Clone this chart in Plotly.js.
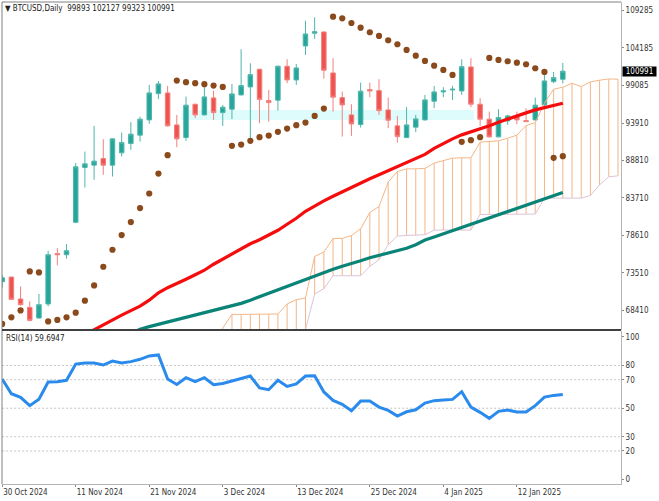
<!DOCTYPE html>
<html><head><meta charset="utf-8">
<script src="https://cdn.plot.ly/plotly-3.0.1.min.js"></script>
<style>html,body{margin:0;padding:0;background:#fff}#c{width:659px;height:501px}</style>
</head><body><div id="c"></div>
<script>
// Daily bars are indexed 0..61; the cloud runs ahead to 67.
const open  = [72292,72932,69935,68791,67348,69254,76132,75969,80395,87859,88186,89085,88186,89861,91128,92272,94356,97938,98033,93675,91945,96494,95037,97352,95350,95813,97761,98851,101261,96985,97039,101670,99804,104435,106165,106342,100757,97393,95037,93716,98483,98347,95718,93539,91945,93362,94356,96903,98170,98442,98306,101575,96494,94451,92041,94220,94805,94261,94356,96399,99572,99893];
const high  = [73245,72932,71651,69608,70616,76514,76882,77426,88459,90038,93539,91727,91850,92626,94043,94805,99123,99668,98987,95037,97529,96535,98810,98347,96399,99259,103985,102079,101300,98442,101750,102623,101983,107881,108344,106410,102760,98210,96494,99436,99436,99899,97393,94901,96086,95037,97761,98987,98810,98987,102623,102760,97312,95486,95813,95037,95486,95950,97393,100485,100894,102127];
const low   = [71474,69840,69050,66884,67252,68927,74512,75424,80327,85135,86184,86865,86633,89357,90270,91400,93811,97175,93443,90638,91496,94588,94970,94356,93539,94451,97690,91864,93907,94124,95623,99355,99123,103209,105388,99981,95486,92081,92177,93307,97448,95037,93226,91264,91864,92681,94261,95950,97448,97080,97761,96086,93539,91945,91945,93675,93771,94084,94261,96168,99355,99323];
const close = [72836,69881,69159,67021,69159,75969,75969,76514,87955,88363,88731,88186,91768,91264,92408,94451,98033,99259,93539,91768,96358,95037,97489,95350,96086,97897,99028,100526,97121,96712,101670,99804,101438,106069,106382,101125,97448,96399,93811,98265,98306,95623,94315,92081,93675,94492,97080,98170,98306,98537,101615,96494,94451,92041,94669,94901,94356,94124,96358,99668,100117,100991];
const sar   = [66531,67430,68383,73695,73558,66884,67075,67430,68071,69704,71788,74335,76650,78652,80423,82329,84318,87042,89548,99709,99491,99355,99218,99028,98851,90815,90992,91496,92000,92218,92722,93171,93634,93988,94901,95895,108425,108208,107567,106927,106301,105797,105211,104666,103890,103114,102392,101752,101165,100485,91360,91591,92000,102800,102528,102351,102160,101942,101398,100894,89180,89413];
// Moving averages, each starting at its own bar index.
const redMaStart = 9;
const redMa = [65073,65754,66435,67048,67729,68347,68955,69771,70787,71474,72021,72634,73245,73858,74675,75357,76105,76786,77467,78012,78625,79306,80123,80940,81894,82643,83324,83937,84550,85162,85775,86320,86865,87410,88023,88500,89044,89657,90474,91155,91768,92313,92722,93089,93539,94043,94492,94901,95309,95718,96059,96399,96631];
const tealMaStart = 14;
const tealMa = [65209,65822,66163,66476,66776,67116,67457,67797,68071,68342,68683,69023,69337,69771,70248,70657,71202,71679,72155,72632,73041,73517,73994,74403,74743,75152,75560,75901,76241,76514,76855,77331,77971,78393,78829,79265,79687,80124,80559,80981,81417,81853,82275,82711,83147,83569,84005,84455];
// Cloud spans, starting at bar 24.
const cloudStart = 24;
const spanUpper = [65985,67838,67838,67838,67838,67838,67893,69255,69840,70071,75738,76337,78190,78190,78598,79510,81730,82548,85871,87315,87682,87682,87750,88459,88812,89139,89180,89180,91319,91400,91496,91864,92272,93580,93988,96631,98537,98810,99355,98892,99532,99763,99940,99899];
const spanLower = [65073,65073,65073,65073,65073,65073,65073,65073,65073,65754,70616,71338,73109,73109,73109,73109,74376,75288,77331,78515,78598,78598,78693,79333,79333,79333,79333,79333,81459,81459,81459,81459,81459,81459,81513,83691,83691,83691,83691,83691,84046,85503,86593,86729];
const rsi = [70.5,60.2,57.6,51.8,56.4,68.4,68.6,69.6,81,81.7,81.7,80.3,83.1,81.7,82.7,84.3,86.7,87.4,70.5,66.7,71.4,68.6,71.4,66.5,67.4,69.3,71,72.6,64.2,63,69.6,65.3,67,72.6,72.8,61.4,55.5,52.7,48.2,55,55,50.8,48.5,44.5,47.5,48.9,53.6,55.3,55.7,56.2,61.6,50.8,47.1,42.9,47.8,48.7,47.3,47.3,51.8,57.8,59,59.7];
const rsiLevels = [80,70,50,30,20];
const zoneBars = [19.5,51.3];
const zonePrices = [94356,95718];
const priceTicks = [109285,104185,99085,93910,88810,83710,78610,73510,68410];
const rsiTicks = [100,80,70,50,30,20,0];
const dateTickBars = [0,8,16,24,32,40,48,56];
const dateTickLabels = ['30 Oct 2024','11 Nov 2024','21 Nov 2024','3 Dec 2024','13 Dec 2024','25 Dec 2024','4 Jan 2025','12 Jan 2025'];
const headline = '▼ BTCUSD,Daily  99893 102127 99323 100991';
const rsiHeadline = 'RSI(14) 59.6947';
const lastPrice = 100991;

const FONT = '"DejaVu Sans Condensed","DejaVu Sans",sans-serif';
const FS = 8;
const bars = open.map((_, i) => i);
const seriesX = (arr, start) => arr.map((_, i) => i + start);
const cloudX = seriesX(spanUpper, cloudStart);

const levelTraces = rsiLevels.map(v => ({
  type:'scatter', mode:'lines', x:[0,67.33], y:[v,v], xaxis:'x', yaxis:'y2',
  line:{color:'#c4c4c4', width:1, dash:'2px,2px'}, hoverinfo:'skip'
}));

const data = [
  // bars sit beneath the candles in plotly's layer order
  {type:'bar', x:[(zoneBars[0]+zoneBars[1])/2], width:[zoneBars[1]-zoneBars[0]], base:[zonePrices[0]],
   y:[zonePrices[1]-zonePrices[0]], marker:{color:'#dffcfc', line:{width:0}}, xaxis:'x', yaxis:'y', hoverinfo:'skip'},
  {type:'bar', x:cloudX, width:0.11, base:spanLower, y:spanUpper.map((u,i)=>u-spanLower[i]),
   marker:{color:'#f3b688', line:{width:0}}, xaxis:'x', yaxis:'y', hoverinfo:'skip'},
  {type:'candlestick', x:bars, open, high, low, close, xaxis:'x', yaxis:'y', whiskerwidth:0,
   increasing:{line:{color:'#4fb5ab', width:1}, fillcolor:'#26a69a'},
   decreasing:{line:{color:'#f2807e', width:1}, fillcolor:'#ef5350'}},
  {type:'scatter', mode:'lines', x:cloudX, y:spanLower, xaxis:'x', yaxis:'y', line:{color:'#dcc3da', width:1}},
  {type:'scatter', mode:'lines', x:cloudX, y:spanUpper, xaxis:'x', yaxis:'y', line:{color:'#f3b688', width:1}},
  {type:'scatter', mode:'lines', x:seriesX(redMa,redMaStart), y:redMa, xaxis:'x', yaxis:'y', line:{color:'#f50d0d', width:3.2}},
  {type:'scatter', mode:'lines', x:seriesX(tealMa,tealMaStart), y:tealMa, xaxis:'x', yaxis:'y', line:{color:'#0b8478', width:3.2}},
  {type:'scatter', mode:'markers', x:bars, y:sar, xaxis:'x', yaxis:'y', marker:{color:'#8b4a1c', size:6.2}},
  ...levelTraces,
  {type:'scatter', mode:'lines', x:bars, y:rsi, xaxis:'x', yaxis:'y2', line:{color:'#2a8bec', width:3}},
];

const layout = {
  width:659, height:501, showlegend:false, paper_bgcolor:'#fff', plot_bgcolor:'#fff',
  margin:{l:2, r:38, t:2, b:16.5, pad:0}, barmode:'overlay',
  font:{family:FONT, size:FS, color:'#333'},
  dragmode:false,
  xaxis:{domain:[0,1], anchor:'y2', range:[-0.02,67.33], type:'linear', rangeslider:{visible:false},
    tickmode:'array', tickvals:dateTickBars, ticktext:dateTickLabels, ticks:'outside', ticklen:2,
    tickcolor:'#888', ticklabelposition:'outside right', showgrid:false, zeroline:false,
    showline:true, linecolor:'#b4b4b4', linewidth:1, tickfont:{family:FONT, size:FS, color:'#333'}},
  yaxis:{domain:[0.3202,1], anchor:'x', side:'right', range:[65754,110428], type:'linear',
    tickmode:'array', tickvals:priceTicks, ticktext:priceTicks.map(String), ticks:'outside', ticklen:2,
    tickcolor:'#888', showgrid:false, zeroline:false, showline:true, linecolor:'#b4b4b4', linewidth:1,
    tickfont:{family:FONT, size:FS, color:'#333'}},
  yaxis2:{domain:[0,0.3171], anchor:'x', side:'right', range:[-3.15,104.06], type:'linear',
    tickmode:'array', tickvals:rsiTicks, ticktext:rsiTicks.map(String), ticks:'outside', ticklen:2,
    tickcolor:'#888', showgrid:false, zeroline:false, showline:true, linecolor:'#b4b4b4', linewidth:1,
    tickfont:{family:FONT, size:FS, color:'#333'}},
  shapes:[
    {type:'line', xref:'paper', yref:'paper', x0:0, x1:1, y0:1, y1:1, line:{color:'#808080', width:1}},
    {type:'line', xref:'paper', yref:'paper', x0:0, x1:0, y0:0, y1:1, line:{color:'#808080', width:1}},
    {type:'line', xref:'paper', yref:'paper', x0:0, x1:1, y0:0.3195, y1:0.3195, line:{color:'#404040', width:2}}
  ],
  annotations:[
    {xref:'paper', yref:'paper', x:0.002, y:0.9875, xanchor:'left', yanchor:'middle', showarrow:false, text:headline,
     font:{family:FONT, size:FS, color:'#222'}},
    {xref:'paper', yref:'paper', x:0.003, y:0.3016, xanchor:'left', yanchor:'middle', showarrow:false, text:rsiHeadline,
     font:{family:FONT, size:FS, color:'#222'}},
    {xref:'paper', yref:'y', x:1.002, y:lastPrice, xanchor:'left', yanchor:'middle', showarrow:false,
     text:String(lastPrice), bgcolor:'#000', font:{family:FONT, size:FS, color:'#fff'}, width:33, height:9, borderpad:0}
  ]
};
Plotly.newPlot('c', data, layout, {displayModeBar:false, staticPlot:true});
</script></body></html>
